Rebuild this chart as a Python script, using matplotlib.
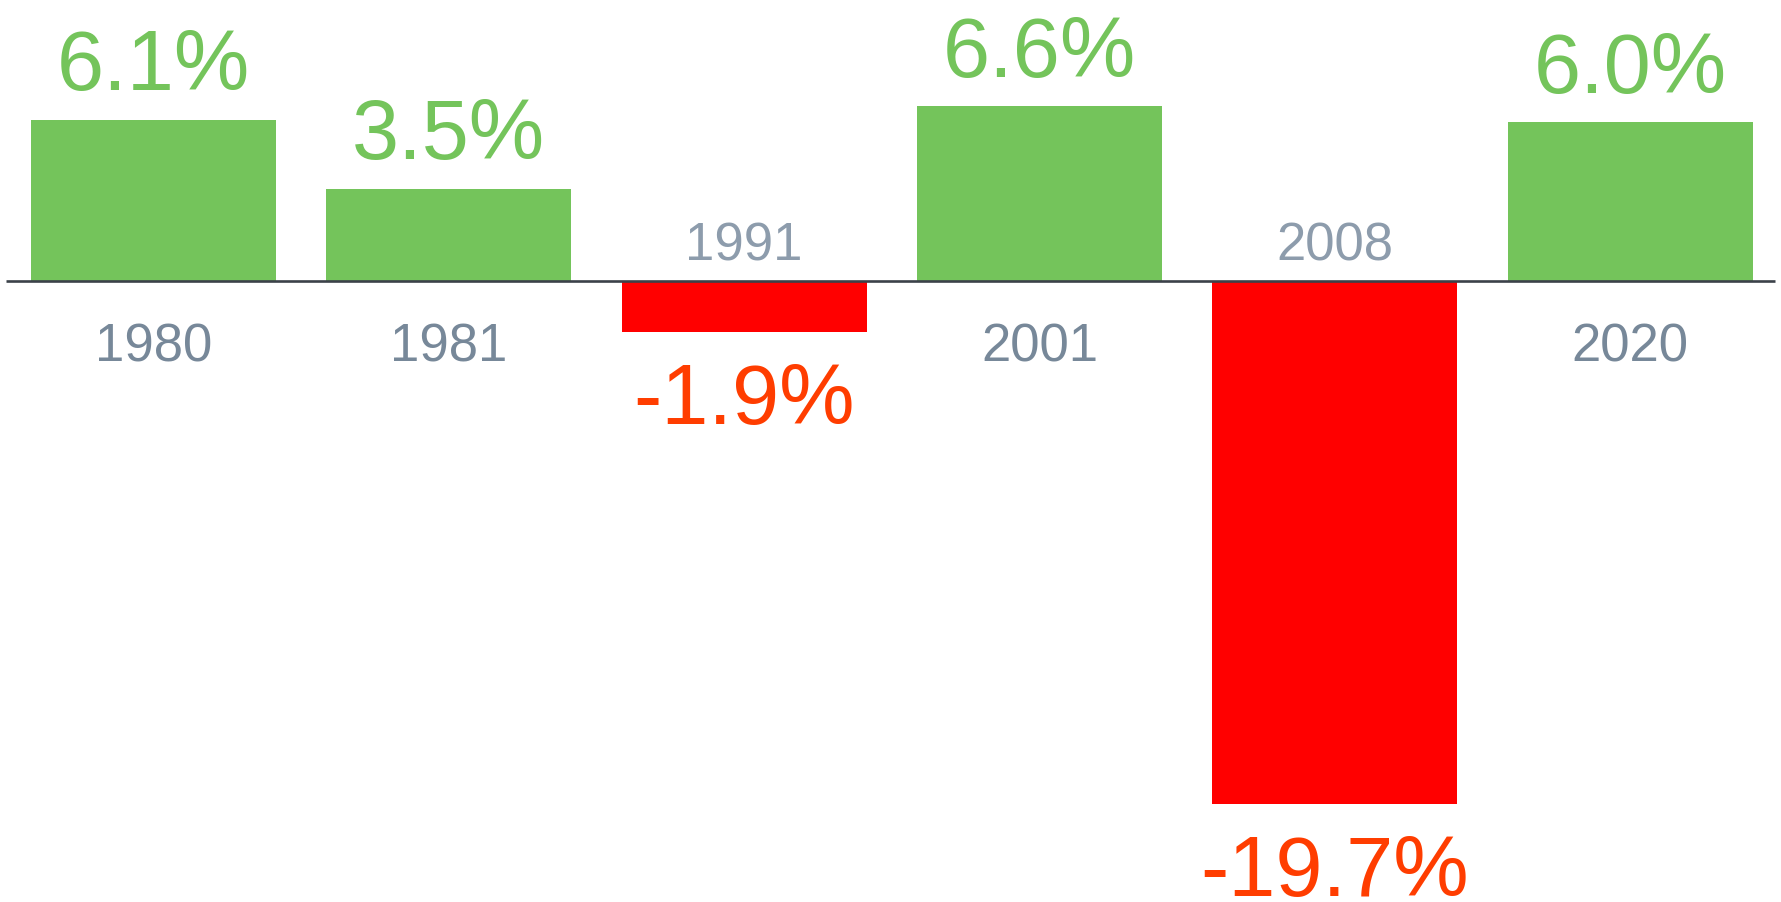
import matplotlib
matplotlib.use("Agg")
import matplotlib.pyplot as plt

years = ["1980", "1981", "1991", "2001", "2008", "2020"]
growth = [6.1, 3.5, -1.9, 6.6, -19.7, 6.0]
value_labels = ["6.1%", "3.5%", "-1.9%", "6.6%", "-19.7%", "6.0%"]

plt.rcParams['font.family'] = ['Liberation Sans', 'DejaVu Sans']

GREEN = "#74c45b"
RED_BAR = "#ff0000"
RED_TXT = "#ff3d00"
YEAR_POS = "#778899"
YEAR_NEG = "#8d9cac"

fig = plt.figure(figsize=(17.815, 9.025), dpi=100)
ax = fig.add_axes([0, 0, 1, 1])
x = list(range(len(years)))
colors = [GREEN if v >= 0 else RED_BAR for v in growth]
ax.bar(x, growth, width=0.83, color=colors, zorder=2)
ax.hlines(0, -0.5, 5.49, color="#3b4149", linewidth=1.9, zorder=3)

px = 72 / 100.0  # points per pixel
for xi, v, lab, yr in zip(x, growth, value_labels, years):
    if v >= 0:
        ax.annotate(lab, (xi, v), xytext=(0, 30 * px), textcoords="offset points",
                    ha="center", va="baseline", fontsize=61, color=GREEN)
        ax.annotate(yr, (xi, 0), xytext=(0, -80 * px), textcoords="offset points",
                    ha="center", va="baseline", fontsize=38, color=YEAR_POS)
    else:
        ax.annotate(lab, (xi, v), xytext=(0, -92 * px), textcoords="offset points",
                    ha="center", va="baseline", fontsize=61, color=RED_TXT)
        ax.annotate(yr, (xi, 0), xytext=(0, 21 * px), textcoords="offset points",
                    ha="center", va="baseline", fontsize=38, color=YEAR_NEG)

ax.set_xlim(-0.519, 5.512)
ax.set_ylim(-23.41, 10.63)
ax.axis("off")
fig.savefig("out.png", dpi=100, facecolor="white")
